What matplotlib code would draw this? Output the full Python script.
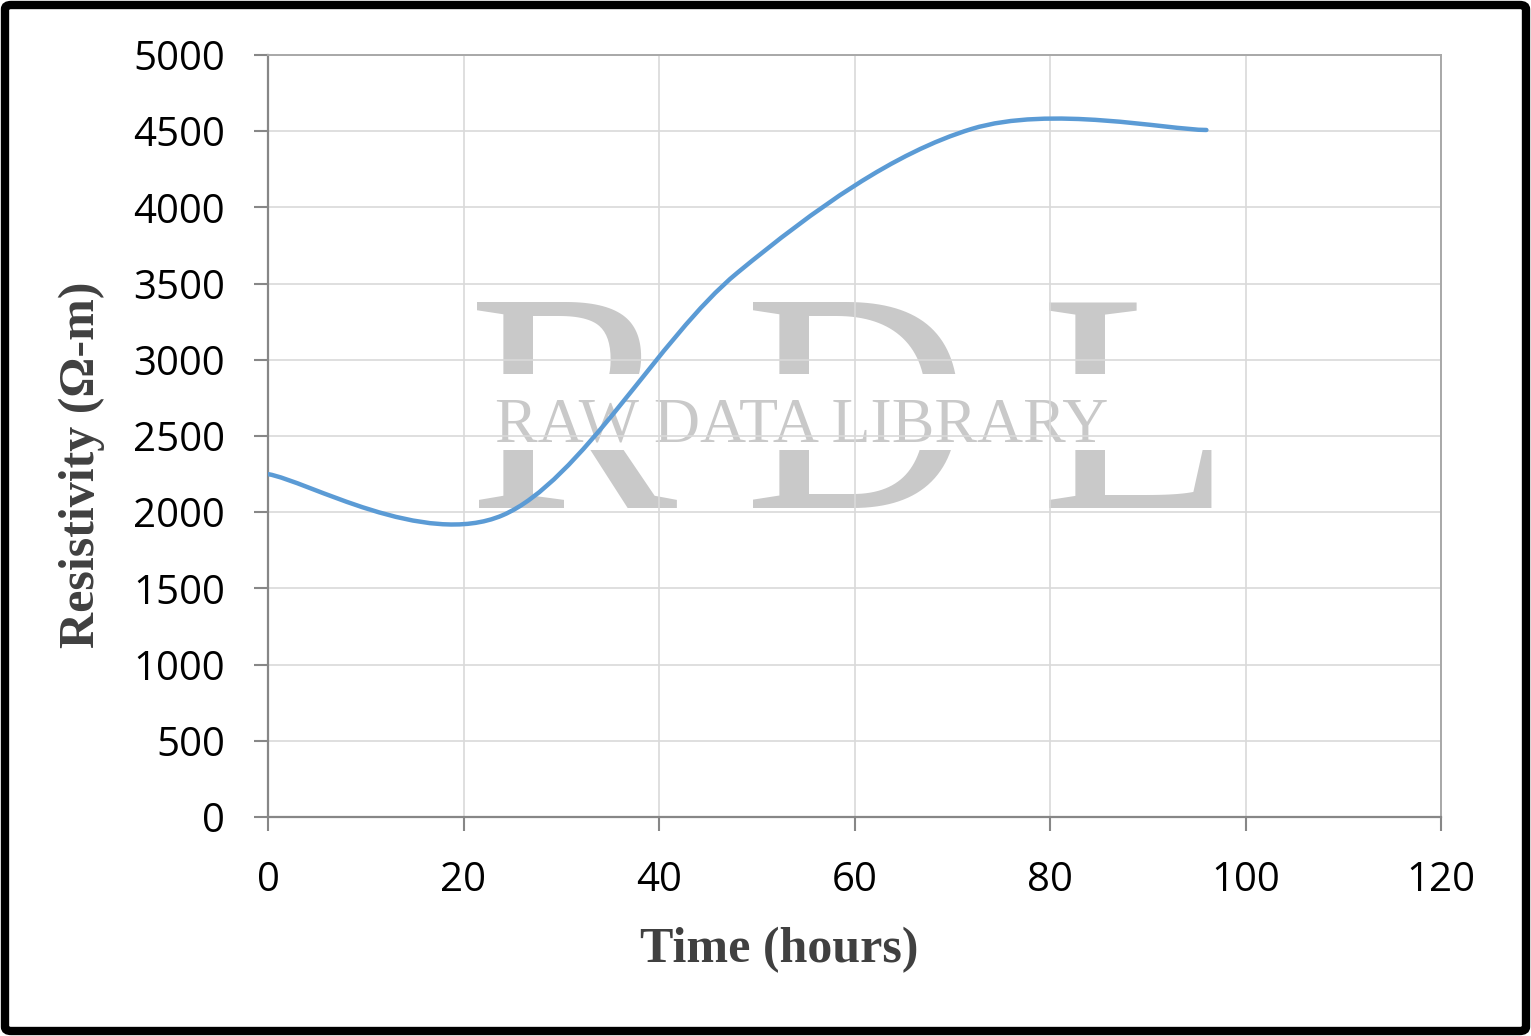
import matplotlib
matplotlib.use("Agg")
import matplotlib.pyplot as plt
from matplotlib.path import Path
from matplotlib.patches import PathPatch, Rectangle, FancyBboxPatch
import numpy as np

# ---- data ----
time_hours = [0, 24, 48, 72, 96]
resistivity = [2250, 1980, 3570, 4515, 4508]
x_ticks = [0, 20, 40, 60, 80, 100, 120]
y_ticks = [0, 500, 1000, 1500, 2000, 2500, 3000, 3500, 4000, 4500, 5000]
x_label = "Time (hours)"
y_label = "Resistivity (\u03a9-m)"

W, H = 1531, 1036
fig = plt.figure(figsize=(W / 100, H / 100), dpi=100)
ax = fig.add_axes([268 / W, 1 - 817 / H, (1441 - 268) / W, (817 - 55) / H])

# ---- smoothed line (Excel-style Bezier smoothing through the data points) ----
xs = np.asarray(time_hours, float)
ys = np.asarray(resistivity, float)
n = len(xs)
verts = [(xs[0], ys[0])]
codes = [Path.MOVETO]
for i in range(n - 1):
    p0 = np.array([xs[max(i - 1, 0)], ys[max(i - 1, 0)]])
    p1 = np.array([xs[i], ys[i]])
    p2 = np.array([xs[i + 1], ys[i + 1]])
    p3 = np.array([xs[min(i + 2, n - 1)], ys[min(i + 2, n - 1)]])
    c1 = p1 + (p2 - p0) / 6.0
    c2 = p2 - (p3 - p1) / 6.0
    verts += [tuple(c1), tuple(c2), tuple(p2)]
    codes += [Path.CURVE4] * 3
ax.add_patch(PathPatch(Path(verts, codes), facecolor="none", edgecolor="#5B9BD5",
                       lw=3.2, capstyle="round", joinstyle="round", zorder=3))

ax.set_xlim(0, 120)
ax.set_ylim(0, 5000)
ax.set_xticks(x_ticks)
ax.set_yticks(y_ticks)
ax.set_axisbelow(True)
ax.grid(True, color="#d9d9d9", lw=1.2, zorder=0.5)

for s in ["left", "bottom"]:
    ax.spines[s].set_color("#878787")
    ax.spines[s].set_linewidth(1.6)
for s in ["top", "right"]:
    ax.spines[s].set_color("#a8a8a8")
    ax.spines[s].set_linewidth(1.4)

ax.tick_params(axis="both", direction="out", length=10, width=1.5, color="#878787",
               labelsize=29, labelcolor="black")
ax.tick_params(axis="x", pad=21)
ax.tick_params(axis="y", pad=21)
for lab in ax.get_xticklabels() + ax.get_yticklabels():
    lab.set_family(["Open Sans", "DejaVu Sans"])

ax.set_xlabel(x_label, family="Liberation Serif", fontweight="bold", fontsize=36,
              color="#404040")
ax.set_ylabel(y_label, family="Liberation Serif", fontweight="bold", fontsize=36,
              color="#404040")
ax.xaxis.set_label_coords((779 - 268) / 1173, (817 - 950) / 762)
ax.xaxis.label.set_va("center")
ax.yaxis.set_label_coords((82 - 268) / 1173, (817 - 465) / 762)
ax.yaxis.label.set_va("center")
ax.yaxis.label.set_ha("center")

# ---- watermark ----
wm = "#c9c9c9"
ft = fig.transFigure
for letter, px in [("R", 468), ("D", 744), ("L", 1040)]:
    ax.text(px / W, 1 - 508 / H, letter, transform=ft, family="Liberation Serif",
            fontsize=226, color=wm, ha="left", va="baseline", zorder=0.1, clip_on=False)
ax.add_patch(Rectangle((460 / W, 1 - 450 / H), 770 / W, 76 / H, transform=ft,
                       facecolor="white", edgecolor="none", zorder=0.2, clip_on=False))
ax.text(802 / W, 1 - 441 / H, "RAW DATA LIBRARY", transform=ft, family="Liberation Serif",
        fontsize=46, color=wm, ha="center", va="baseline", zorder=0.3, clip_on=False)

# ---- outer black frame ----
fig.patches.append(FancyBboxPatch((5 / W, 5 / H), 1 - 10 / W, 1 - 10 / H,
                                  boxstyle="round,pad=0,rounding_size=0.004",
                                  transform=ft, facecolor="none", edgecolor="black",
                                  lw=6, zorder=10))

fig.savefig("out.png", dpi=100)
